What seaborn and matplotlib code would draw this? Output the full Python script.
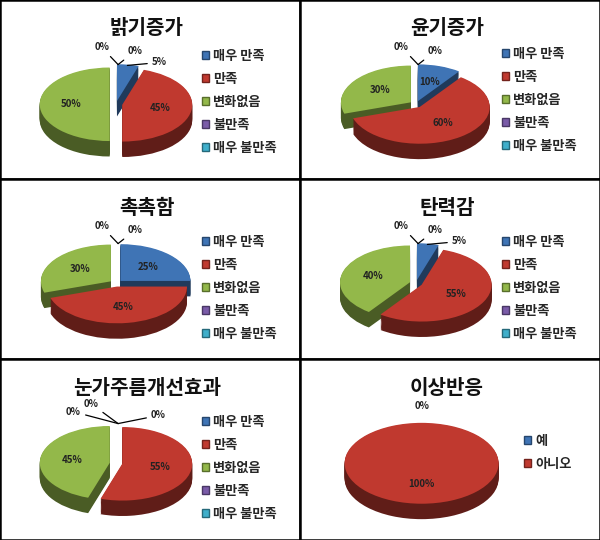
import numpy as np
import matplotlib
matplotlib.use('Agg')
import matplotlib.pyplot as plt
import seaborn as sns
from matplotlib.colors import to_rgb
from matplotlib.patches import Patch

sns.set_theme(style='white')
plt.rcParams['font.family'] = ['Noto Sans CJK KR', 'DejaVu Sans']

# data
titles = ['밝기증가', '윤기증가', '촉촉함', '탄력감', '눈가주름개선효과', '이상반응']
labels5 = ['매우 만족', '만족', '변화없음', '불만족', '매우 불만족']
labels2 = ['예', '아니오']
brightness = [5, 45, 50, 0, 0]
gloss = [10, 60, 30, 0, 0]
moisture = [25, 45, 30, 0, 0]
elasticity = [5, 55, 40, 0, 0]
wrinkle = [0, 55, 45, 0, 0]
side_effect = [0, 100]

colors5 = ['#3F74B5', '#C0392F', '#93B84A', '#7A5BA8', '#3FAFCB']
colors2 = ['#3F74B5', '#C0392F']

panels = [
    (titles[0], brightness, labels5, colors5),
    (titles[1], gloss, labels5, colors5),
    (titles[2], moisture, labels5, colors5),
    (titles[3], elasticity, labels5, colors5),
    (titles[4], wrinkle, labels5, colors5),
    (titles[5], side_effect, labels2, colors2),
]

W, H = 600, 540
fig = plt.figure(figsize=(6, 5.4), dpi=100)
row_edges = [0, 179, 359, 540]
col_edges = [0, 300, 600]
legend_top = [49, 47, 56, 56, 56, 75]


def px_rect(x0, y0, x1, y1):
    return [x0 / W, 1 - y1 / H, (x1 - x0) / W, (y1 - y0) / H]


def darken(c, f=0.5):
    r, g, b = to_rgb(c)
    return (r * f, g * f, b * f)


depth = 0.42
label_kw = dict(fontsize=7, fontweight='bold', color='#222222')
for i, (title, vals, labs, cols) in enumerate(panels):
    r, c = divmod(i, 2)
    x0, x1 = col_edges[c], col_edges[c + 1]
    y0, y1 = row_edges[r], row_edges[r + 1]

    # panel frame
    frame = fig.add_axes(px_rect(x0, y0, x1, y1))
    frame.set_xticks([])
    frame.set_yticks([])
    frame.set_facecolor('white')
    for sp in frame.spines.values():
        sp.set_color('black')
        sp.set_linewidth(1.8)
    frame.text(0.49, 1 - 28 / (y1 - y0), title, transform=frame.transAxes,
               ha='center', va='center', fontsize=14.5, fontweight='bold',
               color='#111111')

    # pie axes (flattened to fake the 3D look)
    ax = fig.add_axes(px_rect(x0 + 32, y0 + 62, x0 + 200, y0 + 162))
    ax.set_facecolor('none')
    nz = [v for v in vals if v > 0]
    single = len(nz) == 1
    rad = 1.1 if single else 1.0
    explode = [0.09 if (v > 0 and not single) else 0.0 for v in vals]
    dark = [darken(cc, 0.5) for cc in cols]
    for k in np.linspace(depth, 0.02, 14):
        ax.pie(vals, explode=explode, colors=dark, startangle=90,
               counterclock=False, center=(0.08 if single else 0, -k),
               radius=rad, wedgeprops=dict(linewidth=0))
    wedges, _ = ax.pie(vals, explode=explode, colors=cols, startangle=90,
                       counterclock=False, center=(0.08 if single else 0, 0),
                       radius=rad, wedgeprops=dict(linewidth=0))
    ax.set_aspect('auto')
    ax.set_xlim(-1.2, 1.2)
    ax.set_ylim(-1.15 - depth, 1.15)
    ax.axis('off')

    # percent labels
    zero_pos = [(-0.1, 1.55), (0.17, 1.45)]
    if i == 4:
        zero_pos = [(-0.5, 1.4), (-0.25, 1.62), (0.5, 1.3)]
    zi = 0
    for w, v in zip(wedges, vals):
        mid = np.deg2rad((w.theta1 + w.theta2) / 2)
        cx, cy = w.center
        if v >= 10:
            ax.text(cx + 0.55 * np.cos(mid), cy + 0.55 * np.sin(mid), f'{v}%',
                    ha='center', va='center', **label_kw)
        elif v > 0:
            px, py = cx + 0.95 * np.cos(mid), cy + 0.98 * np.sin(mid)
            ax.annotate(f'{v}%', xy=(px, py), xytext=(px + 0.35, py + 0.08),
                        va='center', ha='left',
                        arrowprops=dict(arrowstyle='-', color='black', lw=0.9,
                                        shrinkA=1, shrinkB=0),
                        **label_kw)
        else:
            if single:
                ax.text(0.08, 1.55, '0%', ha='center', va='center', **label_kw)
                continue
            tx, ty = zero_pos[zi]
            zi += 1
            ax.annotate('0%', xy=(0.03, 1.08), xytext=(tx, ty),
                        va='center', ha='right' if tx < 0 else 'left',
                        arrowprops=dict(arrowstyle='-', color='black', lw=0.9,
                                        shrinkA=1, shrinkB=0),
                        **label_kw)

    # legend
    handles = [Patch(facecolor=cc, edgecolor=darken(cc, 0.6)) for cc in cols]
    lx = x0 + (202 if len(labs) == 5 else 224)
    anchor = (lx / W, 1 - (y0 + legend_top[i]) / H)
    ax.legend(handles, labs, loc='upper left', bbox_to_anchor=anchor,
              bbox_transform=fig.transFigure, frameon=False,
              handlelength=0.55, handleheight=0.55, handletextpad=0.3,
              labelspacing=0.68, borderpad=0, borderaxespad=0,
              prop=dict(size=9.5, weight='bold'))

fig.savefig('out.png', dpi=100, facecolor='white')
